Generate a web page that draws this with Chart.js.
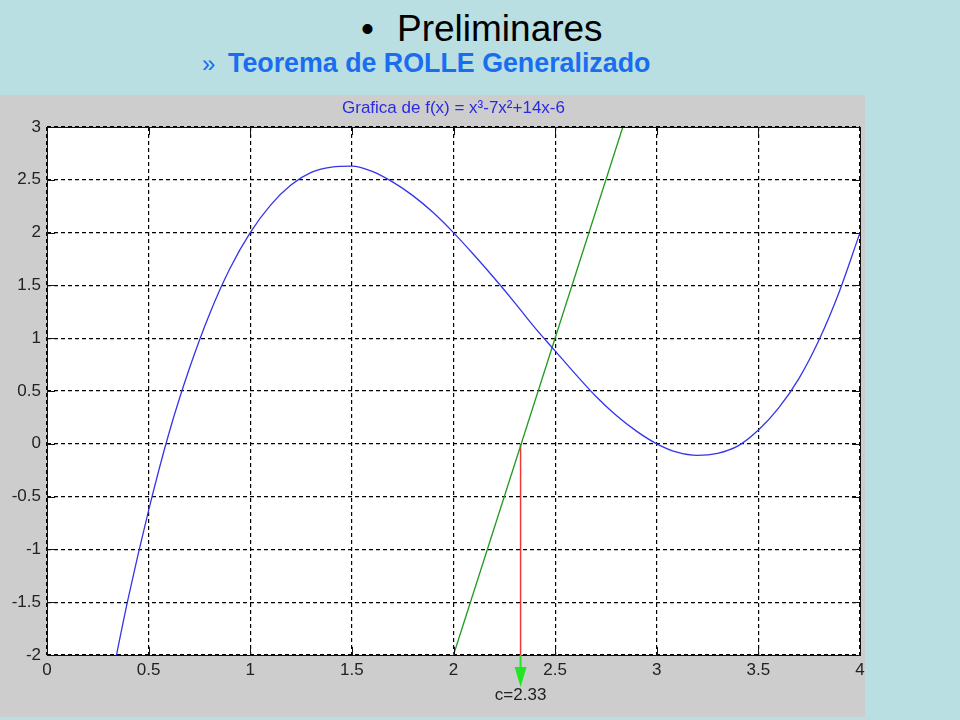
<!DOCTYPE html>
<html>
<head>
<meta charset="utf-8">
<script src="https://cdn.jsdelivr.net/npm/chart.js@4.4.0/dist/chart.umd.min.js"></script>
<style>
  body { margin: 0; width: 960px; height: 720px; overflow: hidden; position: relative;
         background: #b9dfe2; font-family: "Liberation Sans", Arial, sans-serif; }
  .t { position: absolute; line-height: 1; white-space: nowrap; }
  #bullet { left: 361px; top: 10px; font-size: 37px; color: #000; }
  #heading { left: 397px; top: 10px; font-size: 37px; color: #000; }
  #raquo { left: 202px; top: 52px; font-size: 24px; color: #1a6cf0; }
  #subheading { left: 228px; top: 50px; font-size: 26.8px; font-weight: bold; color: #1a6cf0; }
  #plot { position: absolute; left: 0; top: 95px; background: #cdcdcd; }
</style>
</head>
<body>
<div class="t" id="bullet">•</div>
<div class="t" id="heading">Preliminares</div>
<div class="t" id="raquo">»</div>
<div class="t" id="subheading">Teorema de ROLLE Generalizado</div>
<canvas id="plot" width="865" height="622"></canvas>
<script>
const curveX = [0.3, 0.4, 0.5, 0.6, 0.7, 0.8, 0.9, 1.0, 1.1, 1.2, 1.3, 1.4, 1.5, 1.6, 1.7, 1.8, 1.9,
  2.0, 2.1, 2.2, 2.3, 2.4, 2.5, 2.6, 2.7, 2.8, 2.9, 3.0, 3.1, 3.2, 3.3, 3.4, 3.5, 3.6, 3.7, 3.8, 3.9, 4.0];
const curveY = [-2.40, -1.46, -0.63, 0.10, 0.71, 1.23, 1.66, 2.00, 2.26, 2.45, 2.57, 2.62, 2.63, 2.58, 2.48, 2.35, 2.19,
  2.00, 1.79, 1.57, 1.34, 1.10, 0.88, 0.66, 0.45, 0.27, 0.12, 0.00, -0.08, -0.11, -0.09, -0.02, 0.13, 0.34, 0.62, 0.99, 1.45, 2.00];

// green straight line
const lineX = [2.0, 2.833];
const lineY = [-2.0, 3.0];

// red marker at c
const cValue = 2.33;
const markerY = [0, -2];

const xTickLabels = ['0', '0.5', '1', '1.5', '2', '2.5', '3', '3.5', '4'];
const yTickLabels = ['-2', '-1.5', '-1', '-0.5', '0', '0.5', '1', '1.5', '2', '2.5', '3'];

const FONT = '"Liberation Sans", Arial, sans-serif';

// white plot box, solid frame, inward ticks and the c arrow
const matlabFrame = {
  id: 'matlabFrame',
  beforeDraw(chart) {
    const a = chart.chartArea, ctx = chart.ctx;
    ctx.save();
    ctx.fillStyle = '#fff';
    ctx.fillRect(a.left, a.top, a.right - a.left, a.bottom - a.top);
    ctx.restore();
  },
  afterDraw(chart) {
    const a = chart.chartArea, ctx = chart.ctx;
    const xs = chart.scales.x, ys = chart.scales.y;
    const tl = 8;
    ctx.save();
    ctx.strokeStyle = '#111';
    ctx.lineWidth = 1;
    ctx.beginPath();
    xs.ticks.forEach(t => {
      const px = Math.round(xs.getPixelForValue(t.value)) + 0.5;
      ctx.moveTo(px, a.bottom); ctx.lineTo(px, a.bottom - tl);
      ctx.moveTo(px, a.top); ctx.lineTo(px, a.top + tl);
    });
    ys.ticks.forEach(t => {
      const py = Math.round(ys.getPixelForValue(t.value)) + 0.5;
      ctx.moveTo(a.left, py); ctx.lineTo(a.left + tl, py);
      ctx.moveTo(a.right, py); ctx.lineTo(a.right - tl, py);
    });
    ctx.stroke();
    ctx.strokeRect(Math.round(a.left) + 0.5, Math.round(a.top) + 0.5,
      Math.round(a.right - a.left), Math.round(a.bottom - a.top));

    // arrow pointing at c below the axis
    const cx = xs.getPixelForValue(cValue);
    const b = a.bottom;
    ctx.strokeStyle = '#22e622';
    ctx.fillStyle = '#22e622';
    ctx.lineWidth = 2;
    ctx.beginPath();
    ctx.moveTo(cx, b); ctx.lineTo(cx, b + 14);
    ctx.stroke();
    ctx.beginPath();
    ctx.moveTo(cx - 6, b + 12); ctx.lineTo(cx + 6, b + 12); ctx.lineTo(cx, b + 32);
    ctx.closePath();
    ctx.fill();

    ctx.fillStyle = '#222';
    ctx.font = '17px ' + FONT;
    ctx.textAlign = 'center';
    ctx.textBaseline = 'middle';
    ctx.fillText('c=' + cValue.toFixed(2), cx, b + 40);
    ctx.restore();
  }
};

const ctx = document.getElementById('plot').getContext('2d');
new Chart(ctx, {
  type: 'line',
  data: {
    datasets: [
      {
        label: 'f(x)',
        data: curveX.map((x, i) => ({ x: x, y: curveY[i] })),
        borderColor: '#3434ea',
        borderWidth: 1.3,
        pointRadius: 0,
        cubicInterpolationMode: 'monotone'
      },
      {
        label: 'recta',
        data: lineX.map((x, i) => ({ x: x, y: lineY[i] })),
        borderColor: '#1f9a1f',
        borderWidth: 1.3,
        pointRadius: 0
      },
      {
        label: 'c',
        data: markerY.map(y => ({ x: cValue, y: y })),
        borderColor: '#f03a3a',
        borderWidth: 1.5,
        pointRadius: 0
      }
    ]
  },
  options: {
    responsive: false,
    animation: false,
    events: [],
    layout: { padding: { left: 0, right: 5, top: 0, bottom: 0 } },
    plugins: {
      legend: { display: false },
      tooltip: { enabled: false },
      title: {
        display: true,
        fullSize: false,
        text: 'Grafica de f(x) = x³-7x²+14x-6',
        color: '#2a2ae6',
        font: { family: FONT, size: 17, weight: 'normal' },
        padding: { top: 3, bottom: 8.6 }
      }
    },
    scales: {
      x: {
        type: 'linear',
        min: 0,
        max: 4,
        afterFit: s => { s.height = 62; s.paddingLeft = 0; s.paddingRight = 0; },
        ticks: {
          stepSize: 0.5,
          padding: 5,
          maxRotation: 0,
          color: '#222',
          font: { family: FONT, size: 17 },
          callback: (v, i) => xTickLabels[i]
        },
        grid: { color: '#000', lineWidth: 1.2, drawTicks: false },
        border: { display: false, dash: [4, 3] }
      },
      y: {
        type: 'linear',
        min: -2,
        max: 3,
        afterFit: s => { s.width = 47; },
        ticks: {
          stepSize: 0.5,
          padding: 6,
          color: '#222',
          font: { family: FONT, size: 17 },
          callback: (v, i) => yTickLabels[i]
        },
        grid: { color: '#000', lineWidth: 1.2, drawTicks: false },
        border: { display: false, dash: [4, 3] }
      }
    }
  },
  plugins: [matlabFrame]
});
</script>
</body>
</html>
